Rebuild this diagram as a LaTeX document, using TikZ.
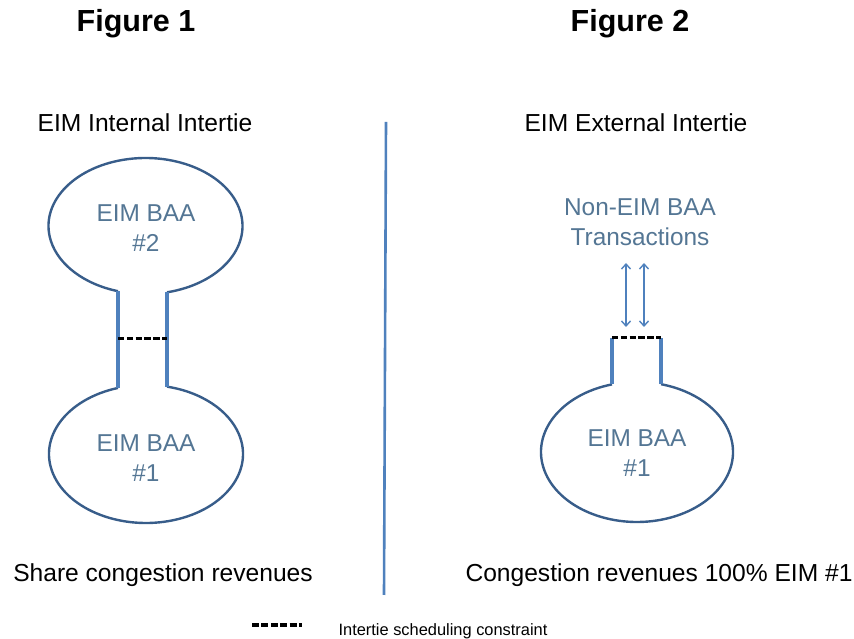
\documentclass[tikz,border=0pt]{standalone}
\usepackage{fontspec}
\setmainfont{Liberation Sans}
\usetikzlibrary{arrows.meta}
\definecolor{ellcol}{RGB}{56,93,138}
\definecolor{neckcol}{RGB}{79,129,189}
\definecolor{txtcol}{RGB}{84,118,148}
\begin{document}
\begin{tikzpicture}[x=1pt,y=1pt,
  ellline/.style={draw=ellcol,line width=2.4pt},
  neckline/.style={draw=neckcol,line width=4pt},
  constraint/.style={draw=black,line width=3pt,dash pattern=on 6.4pt off 2.4pt},
  title/.style={font=\fontsize{30.5}{34}\selectfont\bfseries},
  label/.style={font=\fontsize{24.6}{28}\selectfont,text=black},
  inner/.style={font=\fontsize{24.4}{30}\selectfont,text=txtcol,align=center},
  trans/.style={draw=neckcol,line width=1.4pt,{Straight Barb[length=5pt,width=9pt]}-{Straight Barb[length=5pt,width=9pt]}}]
\useasboundingbox (0,0) rectangle (854,639);

% titles
\node[title] (fig1) at (136,615) {Figure 1};
\node[title] (fig2) at (630,615) {Figure 2};
\node[label] (int) at (145,516) {EIM Internal Intertie};
\node[label] (ext) at (636,516) {EIM External Intertie};

% separator
\coordinate (septop) at (386,517);
\coordinate (sepbot) at (384,44);
\draw[draw=neckcol,line width=2.6pt] (septop) -- (sepbot);

% Figure 1 shape
\coordinate (c2) at (145.5,413);
\coordinate (c1) at (146,185);
\draw[ellline] ([shift={(282.8:97pt and 68pt)}]c2) arc[start angle=282.8,end angle=613.5,x radius=97pt,y radius=68pt];
\draw[ellline] ([shift={(106.8:97pt and 69pt)}]c1) arc[start angle=106.8,end angle=437.5,x radius=97pt,y radius=69pt];
\coordinate (ntl) at (118,347.8);
\coordinate (nbl) at (118,251);
\coordinate (ntr) at (167,346.7);
\coordinate (nbr) at (167,252.4);
\draw[neckline] (ntl) -- (nbl);
\draw[neckline] (ntr) -- (nbr);
\coordinate (dl) at (118,300);
\coordinate (dr) at (167,300);
\draw[constraint] (dl) -- (dr);
\node[inner] (baa2) at (146,411) {EIM BAA\\\#2};
\node[inner] (baa1) at (146,181) {EIM BAA\\\#1};

% Figure 2 shape
\coordinate (c3) at (637,187);
\draw[ellline] ([shift={(105.1:96pt and 70pt)}]c3) arc[start angle=105.1,end angle=435.5,x radius=96pt,y radius=70pt];
\coordinate (rbl) at (612,254.6);
\coordinate (rtl) at (612,301);
\coordinate (rbr) at (661,254.8);
\coordinate (rtr) at (661,301);
\draw[neckline] (rbl) -- (rtl);
\draw[neckline] (rbr) -- (rtr);
\draw[constraint] (rtl) -- (rtr);
\node[inner] (baa1r) at (637,186) {EIM BAA\\\#1};
\node[inner] (nonEIM) at (640,417) {Non-EIM BAA\\Transactions};
\coordinate (a1t) at (626,376);
\coordinate (a1b) at (626,312);
\coordinate (a2t) at (644,376);
\coordinate (a2b) at (644,312);
\draw[trans] (a1t) -- (a1b);
\draw[trans] (a2t) -- (a2b);

% bottom captions
\node[label] (share) at (163,64) {Share congestion revenues};
\node[label] (cong) at (659,64) {Congestion revenues 100\% EIM \#1};

% legend
\coordinate (lg1) at (252,14);
\coordinate (lg2) at (302,14);
\draw[constraint,line width=3.4pt,dash pattern=on 7pt off 2.4pt] (lg1) -- (lg2);
\node[font=\fontsize{16.4}{19}\selectfont] (legend) at (443,7.5) {Intertie scheduling constraint};
\end{tikzpicture}
\end{document}
